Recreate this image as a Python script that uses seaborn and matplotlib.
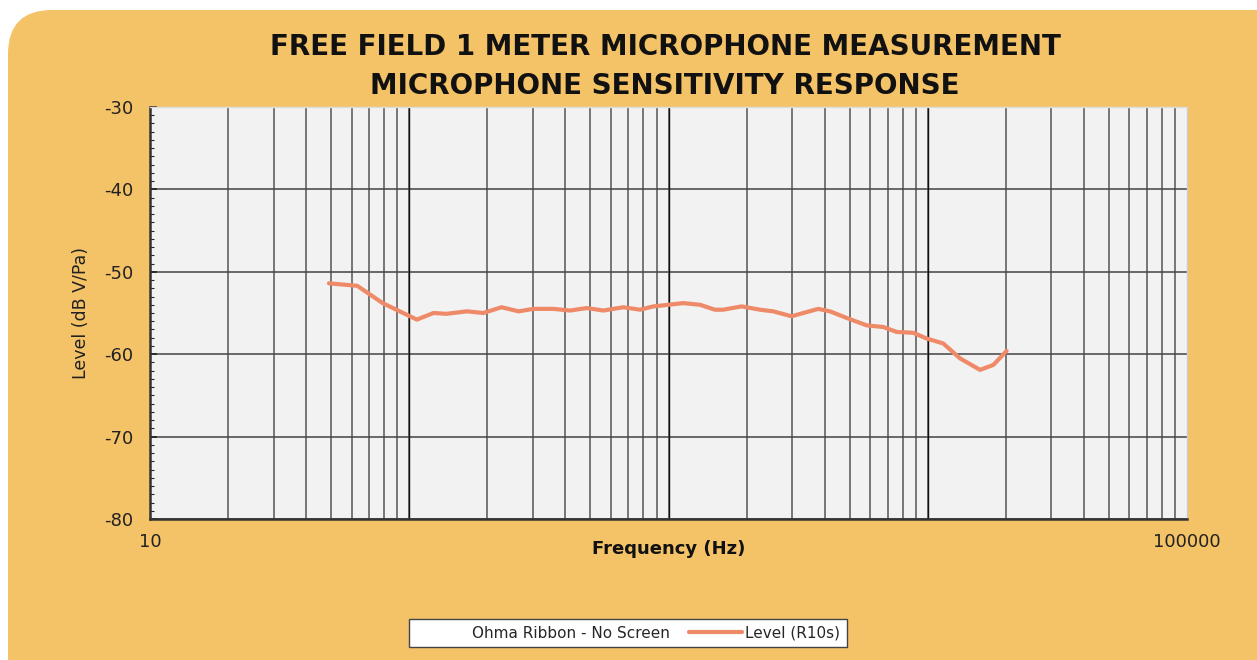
import numpy as np
import pandas as pd
import matplotlib
matplotlib.use("Agg")
import matplotlib.pyplot as plt
from matplotlib.patches import FancyBboxPatch
from matplotlib.lines import Line2D
from matplotlib.ticker import LogLocator, FixedLocator, MultipleLocator, NullFormatter
import seaborn as sns

# values (Hz, dB V/Pa)
freq = [49, 63, 79, 107, 124, 139, 167, 193, 227, 264, 301, 360, 417, 484, 561, 670,
        777, 874, 1000, 1140, 1322, 1510, 1625, 1914, 2253, 2537, 2985, 3311, 3782,
        4197, 4865, 5809, 6741, 7585, 8790, 9910, 11480, 13310, 15910, 17910, 20150]
level = [-51.4, -51.7, -53.8, -55.8, -55.0, -55.1, -54.8, -55.0, -54.3, -54.8, -54.5,
         -54.5, -54.7, -54.4, -54.7, -54.3, -54.6, -54.2, -54.0, -53.8, -54.0, -54.6,
         -54.6, -54.2, -54.6, -54.8, -55.4, -55.0, -54.5, -54.8, -55.6, -56.5, -56.7,
         -57.3, -57.4, -58.1, -58.7, -60.5, -61.9, -61.3, -59.6]
title_lines = ["FREE FIELD 1 METER MICROPHONE MEASUREMENT", "MICROPHONE SENSITIVITY RESPONSE"]
legend_labels = ["Ohma Ribbon - No Screen", "Level (R10s)"]

df = pd.DataFrame({"freq": freq, "level": level})

sns.set_theme(style="white")
plt.rcParams['font.family'] = ['DejaVu Sans']
plt.rcParams['axes.unicode_minus'] = False

W, H = 1257, 660
fig = plt.figure(figsize=(W / 100, H / 100), dpi=100)
fig.patch.set_facecolor("white")

# rounded orange card behind everything (top corners rounded, rest runs off the edge)
orange = "#F4C267"
box = FancyBboxPatch((8 / W, -40 / H), (W + 40 - 8) / W, (H + 40 - 10) / H,
                     boxstyle="round,pad=0,rounding_size=0.035",
                     transform=fig.transFigure, facecolor=orange, edgecolor="none",
                     mutation_aspect=W / H, zorder=-10)
fig.patches.append(box)

ax = fig.add_axes([150 / W, (H - 519) / H, 1037 / W, 412 / H])
ax.set_zorder(2)
ax.set_facecolor("#F2F2F2")

sns.lineplot(data=df, x="freq", y="level", ax=ax, color="#EF8A68", linewidth=3.0,
             zorder=5, solid_joinstyle="round", solid_capstyle="round")

ax.set_xscale("log")
ax.set_xlim(10, 100000)
ax.set_ylim(-80, -30)

ax.xaxis.set_major_locator(FixedLocator([10, 100000]))
ax.xaxis.set_minor_locator(LogLocator(base=10, subs=np.arange(1, 10), numticks=20))
ax.xaxis.set_minor_formatter(NullFormatter())
ax.set_xticklabels(["10", "100000"])
ax.yaxis.set_major_locator(MultipleLocator(10))
ax.yaxis.set_minor_locator(MultipleLocator(1))

ax.grid(True, which="minor", axis="x", color="#555555", linewidth=1.3, alpha=0.85)
ax.grid(True, which="major", axis="y", color="#444444", linewidth=1.3, alpha=0.85)
# decade lines are drawn thinner and darker
for dec in [100, 1000, 10000]:
    ax.axvline(dec, color="#111111", linewidth=1.0, zorder=1)

ax.tick_params(axis="y", which="major", direction="in", length=5, width=1.2,
               left=True, labelsize=13, colors="#222222", pad=12)
ax.tick_params(axis="y", which="minor", direction="in", length=3, width=0.8, left=True)
ax.tick_params(axis="x", which="both", length=0, labelsize=13, colors="#222222", pad=10)

for side, sp in ax.spines.items():
    sp.set_color("#333333")
    sp.set_linewidth(1.0)
ax.spines["top"].set_color("#dddddd")
ax.spines["right"].set_color("#cccccc")
ax.spines["left"].set_linewidth(1.8)
ax.spines["bottom"].set_linewidth(1.8)

ax.set_xlabel("Frequency (Hz)", fontsize=13, fontweight="bold", color="#111111", labelpad=-8)
ax.set_ylabel("Level (dB V/Pa)", fontsize=12.5, color="#222222", labelpad=10)

fig.text(665 / W, 1 - 47 / H, title_lines[0], ha="center", va="center",
         fontsize=20, fontweight="bold", color="#111111")
fig.text(665 / W, 1 - 86 / H, title_lines[1], ha="center", va="center",
         fontsize=20, fontweight="bold", color="#111111")

handles = [Line2D([], [], color="none"),
           Line2D([], [], color="#EF8A68", linewidth=3)]
leg = fig.legend(handles, legend_labels, ncol=2, loc="center",
                 bbox_to_anchor=(628 / W, 1 - 633 / H), frameon=True, fancybox=False,
                 framealpha=1, fontsize=11, handlelength=3.5, columnspacing=1.2,
                 handletextpad=0.2, borderpad=0.45)
leg.get_frame().set_edgecolor("#444444")
leg.get_frame().set_facecolor("white")
leg.get_frame().set_linewidth(1.0)

fig.savefig("out.png", dpi=100, facecolor=fig.get_facecolor())
